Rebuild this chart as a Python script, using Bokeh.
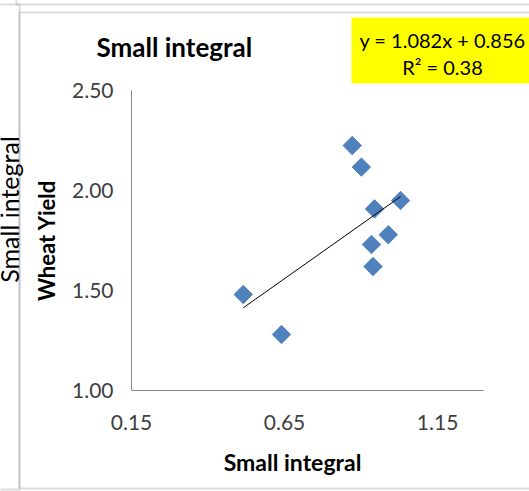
import numpy as np
from bokeh.plotting import figure
from bokeh.models import Range1d, FixedTicker, PrintfTickFormatter, Label, BoxAnnotation
from bokeh.embed import file_html
from bokeh.resources import INLINE

# ---- data ----
small_integral = [0.871, 0.901, 1.029, 0.944, 0.989, 0.934, 0.939, 0.515, 0.640]
wheat_yield = [2.225, 2.117, 1.950, 1.908, 1.779, 1.730, 1.620, 1.480, 1.280]
trend_slope = 1.082
trend_intercept = 0.856
r_squared = 0.38
x_ticks = [0.15, 0.65, 1.15]
y_ticks = [1.00, 1.50, 2.00, 2.50]
chart_title = "Small integral"
x_title = "Small integral"
y_title = "Wheat Yield"
side_title = "Small integral"

# ---- layout (pixel positions of the plot area inside the 529x491 canvas) ----
W, H = 529, 491
FL, FR, FT, FB = 131, 483, 90, 390
X0, X1, Y0, Y1 = 0.15, 1.30, 1.0, 2.5
FONT = "Lato"
BASE = 7  # correction for where bokeh puts the alphabetic baseline


def dx(px):
    return X0 + (px - FL) * (X1 - X0) / (FR - FL)


def dy(py):
    return Y1 - (py - FT) * (Y1 - Y0) / (FB - FT)


p = figure(width=W, height=H, x_range=Range1d(dx(0), dx(W)), y_range=Range1d(dy(H), dy(0)),
           output_backend="svg", toolbar_location=None,
           min_border_left=0, min_border_right=0, min_border_top=0, min_border_bottom=0)
p.title.visible = False
p.grid.visible = False
p.outline_line_color = None
p.background_fill_color = "white"
p.border_fill_color = "white"

for ax in (p.xaxis[0], p.yaxis[0]):
    ax.major_tick_line_color = None
    ax.minor_tick_line_color = None
    ax.major_tick_out = 0
    ax.major_tick_in = 0
    ax.axis_line_color = "#868686"
    ax.axis_line_width = 1
    ax.major_label_text_font = FONT
    ax.major_label_text_font_size = "21px"
    ax.major_label_text_color = "#404040"
    ax.formatter = PrintfTickFormatter(format="%.2f")

p.xaxis[0].ticker = FixedTicker(ticks=x_ticks)
p.yaxis[0].ticker = FixedTicker(ticks=y_ticks)
p.xaxis[0].fixed_location = Y0
p.yaxis[0].fixed_location = X0
p.xaxis[0].bounds = (X0, X1)
p.yaxis[0].bounds = (Y0, Y1)
p.xaxis[0].major_label_standoff = 24
p.yaxis[0].major_label_standoff = 18

# borders of the surrounding boxes
border_col = "#8a8a8a"
p.add_layout(BoxAnnotation(left=dx(19), right=dx(560), top=dy(12), bottom=dy(488),
                           fill_color=None, line_color=border_col, line_width=2))
p.add_layout(BoxAnnotation(left=dx(16), right=dx(560), top=dy(-50), bottom=dy(4),
                           fill_color=None, line_color=border_col, line_width=2))
p.add_layout(BoxAnnotation(left=dx(-50), right=dx(19), top=dy(4), bottom=dy(489),
                           fill_color=None, line_color=border_col, line_width=2))

# yellow equation box
p.add_layout(BoxAnnotation(left=dx(351), right=dx(560), top=dy(17), bottom=dy(83),
                           fill_color="#FFFF00", fill_alpha=1.0, line_color=None))

# scatter points
p.scatter(small_integral, wheat_yield, marker="square", angle=np.pi / 4, size=13,
          fill_color="#4F81BD", line_color="#4F81BD")

# linear trend line
tx = np.array([min(small_integral), max(small_integral)])
p.line(tx, trend_slope * tx + trend_intercept, line_color="#000000", line_width=1)

# texts
p.add_layout(Label(x=dx(96), y=dy(53 - BASE), text=chart_title, text_font=FONT,
                   text_font_style="bold", text_font_size="26px", text_color="#000000",
                   text_baseline="alphabetic", text_align="left"))
p.add_layout(Label(x=dx(442), y=dy(46 - BASE), text=f"y = {trend_slope:.3f}x + {trend_intercept:.3f}",
                   text_font=FONT, text_font_size="20px", text_color="#000000",
                   text_baseline="alphabetic", text_align="center"))
p.add_layout(Label(x=dx(442), y=dy(73 - BASE), text=f"R² = {r_squared:.2f}",
                   text_font=FONT, text_font_size="20px", text_color="#000000",
                   text_baseline="alphabetic", text_align="center"))
p.add_layout(Label(x=dx(292), y=dy(468 - BASE), text=x_title, text_font=FONT,
                   text_font_style="bold", text_font_size="23px", text_color="#000000",
                   text_baseline="alphabetic", text_align="center"))
p.add_layout(Label(x=dx(53 - BASE), y=dy(240), text=y_title, text_font=FONT,
                   text_font_style="bold", text_font_size="22px", text_color="#000000",
                   text_baseline="alphabetic", text_align="center", angle=np.pi / 2))
p.add_layout(Label(x=dx(15 - BASE), y=dy(209), text=side_title, text_font=FONT,
                   text_font_size="25px", text_color="#000000",
                   text_baseline="alphabetic", text_align="center", angle=np.pi / 2))

open("out.html", "w").write(file_html(p, INLINE))
